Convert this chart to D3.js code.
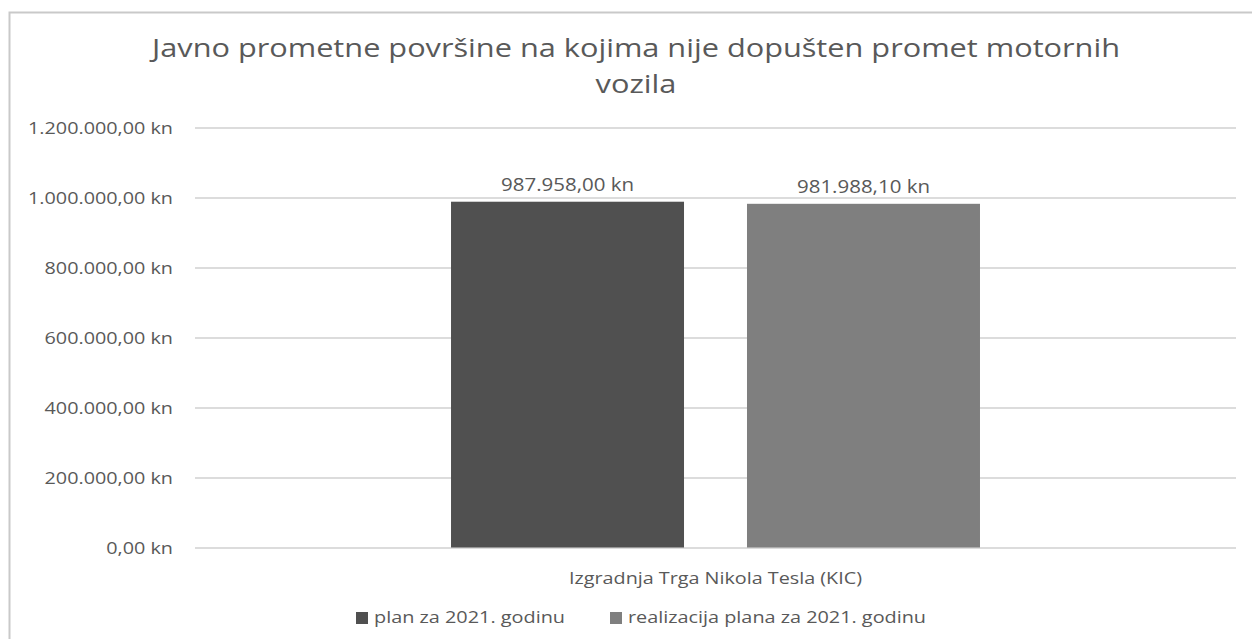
<!DOCTYPE html>
<html>
<head>
<meta charset="utf-8">
<script src="https://cdn.jsdelivr.net/npm/d3@7"></script>
<style>
  html, body { margin: 0; padding: 0; background: #fff; }
  svg text { font-family: "Open Sans", "Noto Sans", sans-serif; fill: #595959; }
</style>
</head>
<body>
<div id="chart"></div>
<script>
// chart data
var categories = ["Izgradnja Trga Nikola Tesla (KIC)"];
var seriesNames = ["plan za 2021. godinu", "realizacija plana za 2021. godinu"];
var seriesValues = [987958.00, 981988.10];
var seriesColors = ["#505050", "#7f7f7f"];
var yTicks = [0, 200000, 400000, 600000, 800000, 1000000, 1200000];
var titleLines = ["Javno prometne površine na kojima nije dopušten promet motornih", "vozila"];

var w = 1252;
var h = 639;
var margin = {top: 127.5, bottom: 91.5, left: 195, right: 16};

var svg = d3.select("#chart")
            .append("svg")
            .attr("width", w)
            .attr("height", h);

// stretch a group of texts by a common factor so the widest-reference one hits its width
function stretch(sel, factor) {
    sel.each(function() {
        var len = this.getComputedTextLength();
        d3.select(this)
          .attr("textLength", len * factor)
          .attr("lengthAdjust", "spacingAndGlyphs");
    });
}

// outer frame (runs off the right and bottom edge like the screenshot)
svg.append("rect")
   .attr("x", 9.5)
   .attr("y", 12.5)
   .attr("width", w + 20)
   .attr("height", h + 20)
   .style("fill", "none")
   .style("stroke", "#c9c9c9")
   .style("stroke-width", 2);

// croatian number format
var hr = d3.formatLocale({decimal: ",", thousands: ".", grouping: [3], currency: ["", " kn"]});
var fmt = function(v) { return hr.format(",.2f")(v) + " kn"; };

var x0 = d3.scaleBand()
           .domain(categories)
           .range([margin.left, w - margin.right])
           .padding(0);

var x1 = d3.scaleBand()
           .domain(seriesNames)
           .range([0, x0.bandwidth()])
           .paddingInner(0.2128)
           .paddingOuter(0.865);

var y = d3.scaleLinear()
          .domain([0, 1200000])
          .range([h - margin.bottom, margin.top]);

// gridlines + labels through axis
var yAxis = d3.axisLeft(y)
              .tickValues(yTicks)
              .tickSize(-(w - margin.left - margin.right))
              .tickPadding(22)
              .tickFormat(fmt);

var gy = svg.append("g")
            .attr("transform", "translate(" + margin.left + ",0)")
            .call(yAxis);
gy.select(".domain").remove();
gy.selectAll(".tick line")
  .style("stroke", "#d0d0d0")
  .style("stroke-width", 1.5);
var yLabels = gy.selectAll(".tick text")
                .style("font-size", "17px")
                .attr("dy", "0.35em");
var topLen = yLabels.filter(function(d) { return d === 1200000; }).node().getComputedTextLength();
stretch(yLabels, 145 / topLen);

// title
var titles = svg.selectAll("text.title")
                .data(titleLines)
                .enter()
                .append("text")
                .attr("class", "title")
                .attr("x", 636)
                .attr("y", function(d, i) { return 57 + i * 36; })
                .attr("text-anchor", "middle")
                .style("font-size", "25px")
                .text(function(d) { return d; });
stretch(titles, 968 / titles.node().getComputedTextLength());

// bars
var groups = svg.selectAll("g.cat")
                .data(categories)
                .enter()
                .append("g")
                .attr("class", "cat")
                .attr("transform", function(d) { return "translate(" + x0(d) + ",0)"; });

groups.selectAll("rect")
      .data(function() { return seriesNames.map(function(s, i) { return {name: s, value: seriesValues[i], color: seriesColors[i]}; }); })
      .enter()
      .append("rect")
      .attr("x", function(d) { return x1(d.name); })
      .attr("y", function(d) { return y(d.value); })
      .attr("width", x1.bandwidth())
      .attr("height", function(d) { return y(0) - y(d.value); })
      .style("fill", function(d) { return d.color; });

// value labels
var vals = groups.selectAll("text.val")
                 .data(function() { return seriesNames.map(function(s, i) { return {name: s, value: seriesValues[i]}; }); })
                 .enter()
                 .append("text")
                 .attr("class", "val")
                 .attr("x", function(d) { return x1(d.name) + x1.bandwidth() / 2; })
                 .attr("y", function(d) { return y(d.value) - 11; })
                 .attr("text-anchor", "middle")
                 .style("font-size", "17.5px")
                 .text(function(d) { return fmt(d.value); });
stretch(vals, 133 / vals.node().getComputedTextLength());

// category label
svg.selectAll("text.catlabel")
   .data(categories)
   .enter()
   .append("text")
   .attr("class", "catlabel")
   .attr("x", function(d) { return x0(d) + x0.bandwidth() / 2; })
   .attr("y", 584)
   .attr("text-anchor", "middle")
   .attr("textLength", 293)
   .attr("lengthAdjust", "spacingAndGlyphs")
   .style("font-size", "16px")
   .text(function(d) { return d; });

// legend
var legendX = [356, 610];
var legendW = [191, 298];
var legend = svg.selectAll("g.legend")
                .data(seriesNames)
                .enter()
                .append("g")
                .attr("class", "legend");

legend.append("rect")
      .attr("x", function(d, i) { return legendX[i]; })
      .attr("y", 612)
      .attr("width", 12)
      .attr("height", 12)
      .style("fill", function(d, i) { return seriesColors[i]; });

legend.append("text")
      .attr("x", function(d, i) { return legendX[i] + 18; })
      .attr("y", 623)
      .attr("textLength", function(d, i) { return legendW[i]; })
      .attr("lengthAdjust", "spacingAndGlyphs")
      .style("font-size", "16px")
      .text(function(d) { return d; });
</script>
</body>
</html>
